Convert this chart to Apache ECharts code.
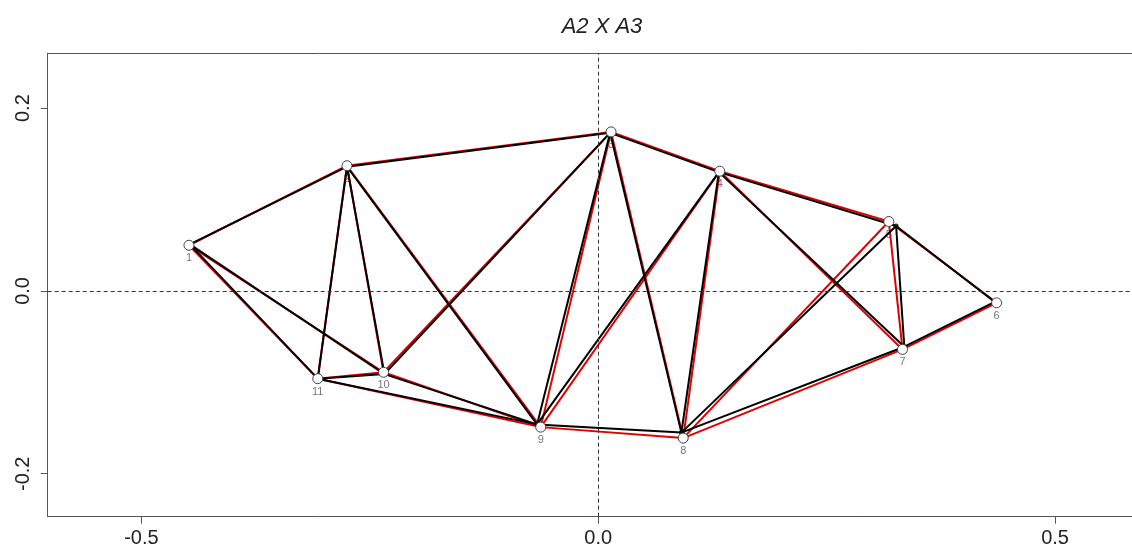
<!DOCTYPE html>
<html>
<head>
<meta charset="utf-8">
<script src="https://cdn.jsdelivr.net/npm/echarts@6/dist/echarts.min.js"></script>
<style>
html,body{margin:0;padding:0;background:#fff;}
#c{width:1132px;height:551px;}
</style>
</head>
<body>
<div id="c"></div>
<script>
// Point labels
var pointLabels = ['1','2','3','4','5','6','7','8','9','10','11'];
// Configuration A (red, drawn with open circles)
var redX = [-0.448, -0.275, 0.014, 0.133, 0.318, 0.436, 0.333, 0.093, -0.063, -0.235, -0.307];
var redY = [0.050, 0.137, 0.174, 0.131, 0.076, -0.013, -0.064, -0.161, -0.149, -0.089, -0.096];
// Configuration B (black)
var blackX = [-0.447, -0.275, 0.013, 0.132, 0.326, 0.434, 0.335, 0.091, -0.067, -0.234, -0.307];
var blackY = [0.051, 0.136, 0.173, 0.130, 0.071, -0.012, -0.061, -0.155, -0.146, -0.091, -0.096];
// Links between points (1-based)
var edges = [[1,2],[1,10],[1,11],[2,3],[2,11],[2,10],[2,9],[3,10],[3,9],[3,8],[3,4],
             [4,9],[4,8],[4,5],[4,7],[5,8],[5,7],[5,6],[6,7],[7,8],[8,9],[9,10],[9,11],[10,11]];
var xTicks = [-0.5, 0.0, 0.5];
var yTicks = [-0.2, 0.0, 0.2];
var title = 'A2 X A3';

function edgeData(xs, ys){
  return edges.map(function(e){
    var a = e[0]-1, b = e[1]-1;
    return {coords: [[xs[a], ys[a]], [xs[b], ys[b]]]};
  });
}
function pts(xs, ys){
  return xs.map(function(x,i){ return {value:[x, ys[i]], name: pointLabels[i]}; });
}

var chart = echarts.init(document.getElementById('c'), null, {renderer:'canvas'});
var font = 'Liberation Sans, Arial, sans-serif';
var XMIN = -0.6026, XMAX = 0.5842;
chart.setOption({
  animation: false,
  backgroundColor: '#fff',
  title: {
    text: title, left: 597, top: 11, textAlign: 'center',
    textStyle: {fontFamily: font, fontStyle: 'italic', fontWeight: 'normal', fontSize: 22, color: '#222'}
  },
  grid: {left: 47.7, top: 53.3, right: 0, bottom: 34.3, show: false},
  xAxis: [{
    type: 'value', min: XMIN, max: XMAX, position: 'bottom',
    axisLine: {show: true, onZero: false, lineStyle: {color: '#555', width: 1}},
    splitLine: {show: false},
    axisTick: {show: true, length: 7, customValues: xTicks, lineStyle: {color: '#555'}},
    axisLabel: {customValues: xTicks, margin: 12, fontSize: 20, fontFamily: font, color: '#222',
      formatter: function(v){ return v.toFixed(1); }}
  }, {
    type: 'value', min: XMIN, max: XMAX, position: 'top',
    axisLine: {show: true, onZero: false, lineStyle: {color: '#555', width: 1}},
    splitLine: {show: false}, axisTick: {show: false}, axisLabel: {show: false}
  }],
  yAxis: {
    type: 'value', min: -0.247, max: 0.260, position: 'left',
    axisLine: {show: true, onZero: false, lineStyle: {color: '#555', width: 1}},
    splitLine: {show: false},
    axisTick: {show: true, length: 7, customValues: yTicks, lineStyle: {color: '#555'}},
    axisLabel: {customValues: yTicks, rotate: 90, margin: 14, fontSize: 20, fontFamily: font, color: '#222',
      formatter: function(v){ return v.toFixed(1); }}
  },
  series: [
    {
      type: 'scatter', z: 1, symbolSize: 1, silent: true,
      itemStyle: {color: 'rgba(0,0,0,0)'},
      data: pts(redX, redY),
      label: {show: true, position: 'bottom', distance: 7, formatter: '{b}', fontSize: 11, fontFamily: font, color: '#5a4e66'},
      markLine: {
        silent: true, symbol: 'none', label: {show: false},
        lineStyle: {type: [4, 3], color: '#333', width: 1},
        data: [{xAxis: 0}, {yAxis: 0}]
      }
    },
    {
      type: 'lines', coordinateSystem: 'cartesian2d', z: 2, silent: true,
      lineStyle: {color: '#e00000', width: 2, opacity: 1},
      data: edgeData(redX, redY)
    },
    {
      type: 'lines', coordinateSystem: 'cartesian2d', z: 3, silent: true,
      lineStyle: {color: '#000', width: 2, opacity: 1},
      data: edgeData(blackX, blackY)
    },
    {
      type: 'scatter', z: 4, symbolSize: 5, silent: true,
      itemStyle: {color: '#000'},
      data: pts(blackX, blackY)
    },
    {
      type: 'scatter', z: 5, symbolSize: 10, silent: true,
      itemStyle: {color: '#fff', borderColor: '#444', borderWidth: 1, opacity: 1},
      data: pts(redX, redY)
    }
  ]
});
</script>
</body>
</html>
